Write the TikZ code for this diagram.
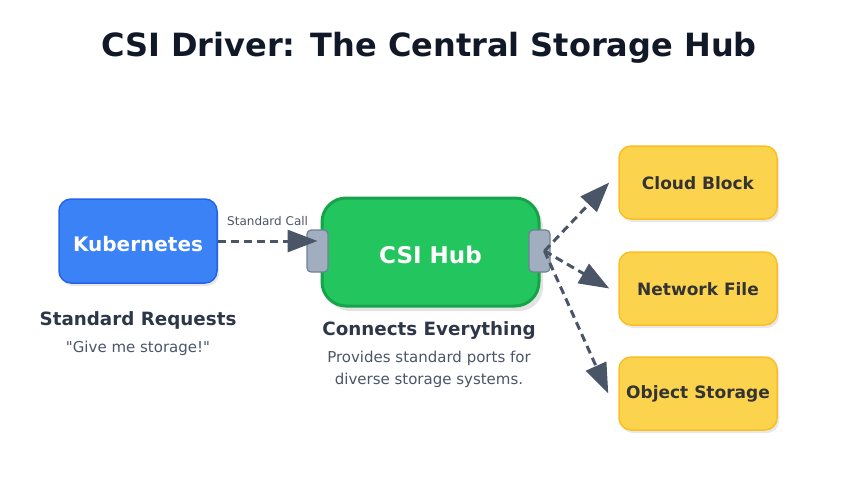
\documentclass[tikz,border=0pt]{standalone}
\usepackage{fontspec}
\setmainfont{DejaVu Sans}
\usetikzlibrary{positioning, arrows.meta, shadows}

\definecolor{titleText}{HTML}{111827}
\definecolor{headText}{HTML}{2D3748}
\definecolor{subText}{HTML}{4A5568}
\definecolor{k8sFill}{HTML}{3B82F6}
\definecolor{k8sLine}{HTML}{2563EB}
\definecolor{hubFill}{HTML}{22C55E}
\definecolor{hubLine}{HTML}{16A34A}
\definecolor{portFill}{HTML}{A0AEC0}
\definecolor{portLine}{HTML}{718096}
\definecolor{storeFill}{HTML}{FCD34D}
\definecolor{storeLine}{HTML}{FBBF24}
\definecolor{storeText}{HTML}{333333}

\begin{document}
\begin{tikzpicture}[x=1pt, y=-1pt,
    entity/.style={rectangle, draw=k8sLine, line width=1.5pt, rounded corners=12pt, fill=k8sFill, minimum width=158pt, minimum height=84pt, text=white, text centered, text height=21pt, font=\fontsize{20}{24}\selectfont\bfseries, drop shadow={shadow xshift=2pt, shadow yshift=-3pt, opacity=0.18}},
    hub/.style={rectangle, draw=hubLine, line width=3pt, rounded corners=24pt, fill=hubFill, minimum width=217pt, minimum height=108pt, text=white, text centered, text height=23pt, font=\fontsize{23}{27}\selectfont\bfseries, drop shadow={shadow xshift=4pt, shadow yshift=-5pt, opacity=0.22}},
    port/.style={rectangle, draw=portLine, line width=1.2pt, rounded corners=4pt, fill=portFill, minimum width=21pt, minimum height=42pt, inner sep=0pt},
    store/.style={rectangle, draw=storeLine, line width=1.5pt, rounded corners=12pt, fill=storeFill, minimum width=158pt, minimum height=73pt, text=storeText, text centered, text height=14pt, font=\fontsize{17}{20}\selectfont\bfseries, drop shadow={shadow xshift=2pt, shadow yshift=-3pt, opacity=0.18}},
    head/.style={text=headText, font=\fontsize{18.3}{22}\selectfont\bfseries},
    note/.style={text=subText, align=center, font=\fontsize{15}{22}\selectfont},
    arrow/.style={-{Triangle[length=30pt, width=22pt]}, line width=3pt, dash pattern=on 8pt off 5pt, draw=subText},
    every node/.style={inner sep=3pt}
    ]

    \useasboundingbox (0,0) rectangle (841,479);

    % Title
    \node[text=titleText, font=\fontsize{32}{38}\selectfont\bfseries] (Title) at (429,48) {CSI Driver: The Central Storage Hub};

    % Nodes
    \node[entity] (Kubernetes) at (138,241) {Kubernetes};
    \node[hub] (Hub) at (430.5,252) {CSI Hub};
    \node[port] (PortLeft) at (317.5,251) {};
    \node[port] (PortRight) at (539.5,251) {};
    \node[store] (CloudBlock) at (698,182.5) {Cloud Block};
    \node[store] (NetworkFile) at (698,288.5) {Network File};
    \node[store] (ObjectStorage) at (698,393.5) {Object Storage};

    % Captions
    \node[head] (K8sHead) at (138,320) {Standard Requests};
    \node[note] (K8sNote) at (138,348) {\textquotedbl Give me storage!\textquotedbl};
    \node[head] (HubHead) at (429,331) {Connects Everything};
    \node[note] (HubNote) at (429,369) {Provides standard ports for\\diverse storage systems.};

    % Connections
    \draw[arrow] (Kubernetes.east) -- (Kubernetes.east -| PortLeft.center) node[midway, above=11pt, text=subText, font=\fontsize{12}{14}\selectfont]{Standard Call};
    \draw[arrow] ([xshift=5pt]PortRight.center) -- ([xshift=-9pt]CloudBlock.west);
    \draw[arrow] ([xshift=5pt]PortRight.center) -- ([xshift=-9pt]NetworkFile.west);
    \draw[arrow] ([xshift=5pt]PortRight.center) -- ([xshift=-10pt]ObjectStorage.west);

\end{tikzpicture}
\end{document}
